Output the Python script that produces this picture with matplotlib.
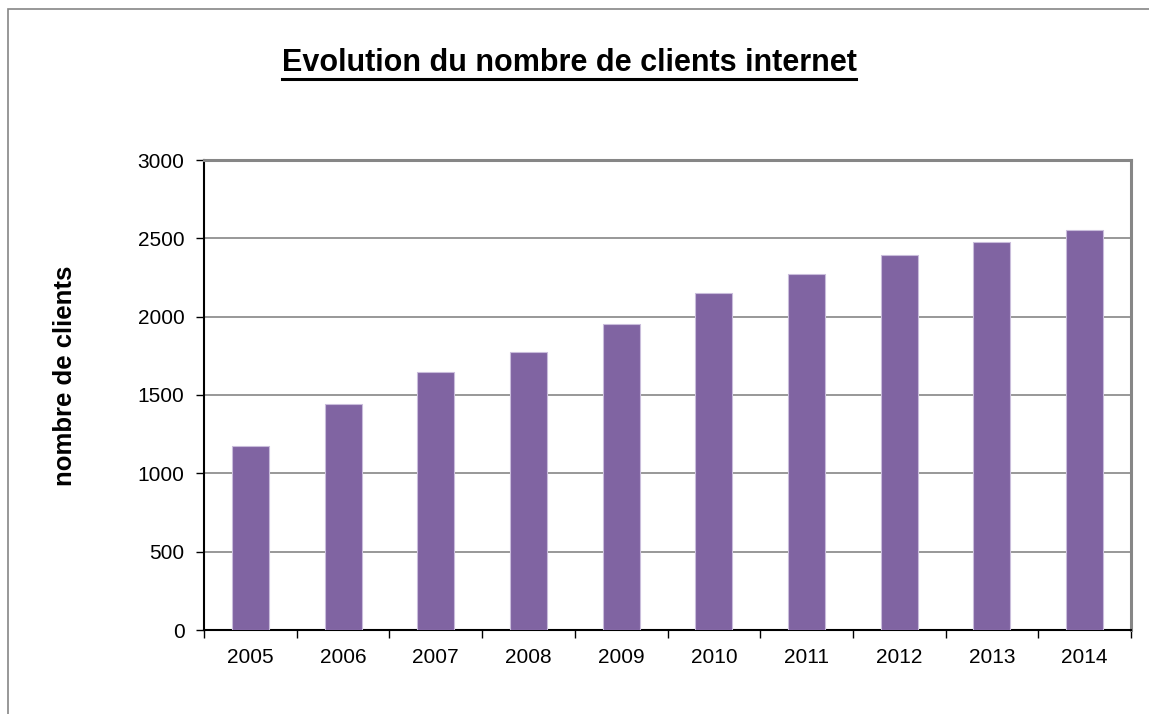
import matplotlib
matplotlib.use('Agg')
import matplotlib.pyplot as plt
from matplotlib.lines import Line2D
from matplotlib.patches import Rectangle
import numpy as np

# donnees
annees = ['2005', '2006', '2007', '2008', '2009', '2010', '2011', '2012', '2013', '2014']
clients = [1175, 1445, 1650, 1775, 1955, 2150, 2270, 2395, 2475, 2555]
yticks = [0, 500, 1000, 1500, 2000, 2500, 3000]

titre = 'Evolution du nombre de clients internet'
ylab = 'nombre de clients'

plt.rcParams['font.family'] = ['Liberation Sans', 'DejaVu Sans']

W, H = 1149, 714
fig = plt.figure(figsize=(W/100, H/100), dpi=100)
fig.patch.set_facecolor('white')

# cadre exterieur du graphique
fig.patches.append(Rectangle((8/W, -0.1), 1.2, 1-9/H+0.1, transform=fig.transFigure,
                             fill=False, edgecolor='#868686', linewidth=1.2))

ax = fig.add_axes([204/W, 1-630/H, (1131-204)/W, (630-160)/H])
x = np.arange(len(annees))
ax.bar(x, clients, width=0.4, color='#8064A2', edgecolor='#C9BDDB', linewidth=0.8, zorder=3)

ax.set_xlim(-0.5, len(annees)-0.5)
ax.set_ylim(0, 3000)
ax.set_yticks(yticks)
ax.set_yticklabels([str(v) for v in yticks], fontsize=15)
ax.set_xticks(x)
ax.set_xticklabels(annees, fontsize=15)
ax.set_xticks(np.arange(len(annees)+1)-0.5, minor=True)
ax.tick_params('x', which='major', length=0, pad=13)
ax.tick_params('x', which='minor', length=6, width=1, direction='out', color='black')
ax.tick_params('y', length=6, width=1, direction='out', color='black', pad=8)

ax.grid(axis='y', color='#868686', linewidth=1.2, zorder=0)
ax.set_axisbelow(True)

ax.spines['left'].set_color('black')
ax.spines['left'].set_linewidth(1.5)
ax.spines['bottom'].set_color('black')
ax.spines['bottom'].set_linewidth(1.5)
ax.spines['top'].set_color('#868686')
ax.spines['top'].set_linewidth(2.2)
ax.spines['right'].set_color('#868686')
ax.spines['right'].set_linewidth(2.2)

ax.set_ylabel(ylab, fontsize=18.5, fontweight='bold')
ax.yaxis.set_label_coords(-0.137, 0.54)

t = fig.text(569/W, 1-63/H, titre, fontsize=22, fontweight='bold', ha='center', va='center')

# soulignement du titre
fig.canvas.draw()
bb = t.get_window_extent()
yl = bb.y0 - 1
fig.lines.append(Line2D([bb.x0/W, bb.x1/W], [yl/H, yl/H], transform=fig.transFigure,
                        color='black', linewidth=2.2))

fig.savefig('out.png', dpi=100)
